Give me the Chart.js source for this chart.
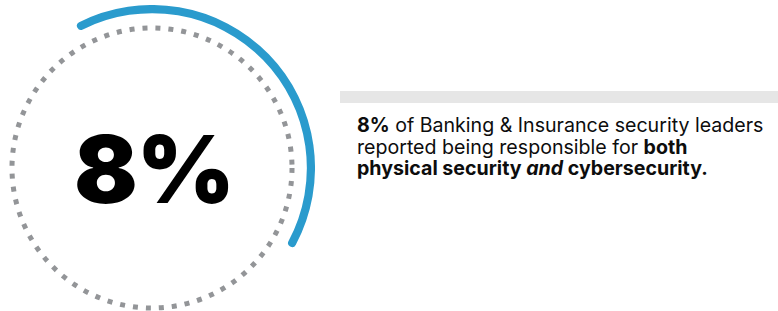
<!DOCTYPE html>
<html>
<head>
<meta charset="utf-8">
<script src="https://cdn.jsdelivr.net/npm/chart.js@4/dist/chart.umd.min.js"></script>
<style>
  html, body { margin: 0; padding: 0; background: #fff; }
  body { width: 778px; height: 311px; position: relative; overflow: hidden; }
  #ringBox { position: absolute; left: -11px; top: 5px; width: 326px; height: 326px; }
  #bigValue {
    position: absolute; left: 54px; width: 200px; top: 113px;
    text-align: center; font-family: Inter, sans-serif; font-weight: 900;
    font-size: 94px; line-height: 112px; color: #000; letter-spacing: -1px;
  }
  #band { position: absolute; left: 340px; top: 91px; width: 438px; height: 12px; background: #e6e6e6; }
  #caption {
    position: absolute; left: 357px; top: 115px; width: 421px;
    font-family: Inter, sans-serif; font-size: 19.6px; line-height: 21.5px; color: #0d0d0d;
  }
  #caption b { font-weight: 700; }
</style>
</head>
<body>
<div id="ringBox"><canvas id="ring"></canvas></div>
<div id="bigValue"></div>
<div id="band"></div>
<div id="caption"></div>

<script>
// valeur affichée et part de l'anneau bleu
const valeurPct = 8;
const arcLabels = ['highlight', 'rest'];
const arcShare = [41, 59];

//-------------------------------------Textes-------------------------------------
document.getElementById('bigValue').textContent = valeurPct + '%';
document.getElementById('caption').innerHTML =
  '<b>' + valeurPct + '%</b> of Banking &amp; Insurance security leaders<br>reported being responsible for ' +
  '<b>both<br>physical security <i>and</i> cybersecurity.</b>';

//-------------------------------------Cercle pointillé-------------------------------------
const dottedRing = {
  id: 'dottedRing',
  beforeDatasetsDraw(chart) {
    const arc = chart.getDatasetMeta(0).data[0];
    if (!arc) return;
    const ctx = chart.ctx;
    ctx.save();
    ctx.strokeStyle = '#939598';
    ctx.lineWidth = 5;
    ctx.setLineDash([5, 8]);
    ctx.beginPath();
    ctx.arc(arc.x, arc.y, arc.outerRadius * 0.859, 0, Math.PI * 2);
    ctx.stroke();
    ctx.restore();
  }
};

const ctx = document.getElementById('ring').getContext('2d');
new Chart(ctx, {
  type: 'doughnut',
  data: {
    labels: arcLabels,
    datasets: [{
      data: arcShare,
      backgroundColor: ['#2a9bcd', 'rgba(0,0,0,0)'],
      borderWidth: 0,
      borderRadius: 4
    }]
  },
  options: {
    responsive: true,
    maintainAspectRatio: false,
    animation: false,
    rotation: -28,
    cutout: '95%',
    plugins: { legend: { display: false }, tooltip: { enabled: false } },
    events: []
  },
  plugins: [dottedRing]
});
</script>
</body>
</html>
